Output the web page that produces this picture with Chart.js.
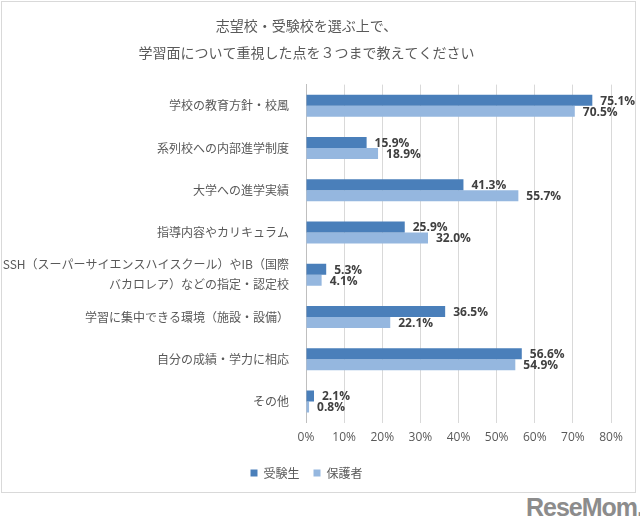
<!DOCTYPE html>
<html>
<head>
<meta charset="utf-8">
<script src="https://cdn.jsdelivr.net/npm/chart.js@4/dist/chart.umd.min.js"></script>
<style>
  body { margin: 0; background: #fff; font-family: "Noto Sans CJK JP", sans-serif; }
  .frame {
    position: absolute; left: 1px; top: 1px; width: 635px; height: 492px;
    border: 1px solid #d9d9d9; box-sizing: border-box;
  }
  .logo {
    position: absolute; left: 526px; top: 493px; white-space: nowrap;
    font: bold 25px "Liberation Sans", sans-serif; color: #8c8c8c; letter-spacing: -1px;
  }
</style>
</head>
<body>
<div class="frame"><canvas id="chart" width="633" height="490"></canvas></div>
<div class="logo">ReseMom.</div>
<script>
const titleLines = ['志望校・受験校を選ぶ上で、', '学習面について重視した点を３つまで教えてください'];
const categories = [
  '学校の教育方針・校風',
  '系列校への内部進学制度',
  '大学への進学実績',
  '指導内容やカリキュラム',
  ['SSH（スーパーサイエンスハイスクール）やIB（国際', 'バカロレア）などの指定・認定校'],
  '学習に集中できる環境（施設・設備）',
  '自分の成績・学力に相応',
  'その他',
];
const students = [75.1, 15.9, 41.3, 25.9, 5.3, 36.5, 56.6, 2.1];
const parents = [70.5, 18.9, 55.7, 32.0, 4.1, 22.1, 54.9, 0.8];
const seriesNames = ['受験生', '保護者'];
const colors = ['#4a7fba', '#95b7df'];
const font = '"Noto Sans CJK JP", sans-serif';

// draws the value text just past the end of each bar
const valueLabels = {
  id: 'valueLabels',
  afterDatasetsDraw(chart) {
    const { ctx } = chart;
    ctx.save();
    ctx.font = 'bold 12px "Open Sans", sans-serif';
    ctx.fillStyle = '#404040';
    ctx.textBaseline = 'middle';
    chart.data.datasets.forEach((ds, i) => {
      chart.getDatasetMeta(i).data.forEach((bar, j) => {
        ctx.fillText(ds.data[j].toFixed(1) + '%', bar.x + 8, bar.y + 1);
      });
    });
    ctx.restore();
  },
};

new Chart(document.getElementById('chart'), {
  type: 'bar',
  data: {
    labels: categories,
    datasets: [
      { label: seriesNames[0], data: students, backgroundColor: colors[0] },
      { label: seriesNames[1], data: parents, backgroundColor: colors[1] },
    ],
  },
  options: {
    indexAxis: 'y',
    responsive: false,
    animation: false,
    categoryPercentage: 0.52,
    barPercentage: 1,
    layout: { padding: { left: 0, right: 24, top: 10, bottom: 3 } },
    scales: {
      x: {
        min: 0,
        max: 80,
        ticks: {
          stepSize: 10,
          callback: (v) => v + '%',
          color: '#595959',
          font: { family: '"Open Sans", sans-serif', size: 12 },
          padding: 8,
        },
        grid: { color: '#d9d9d9', drawTicks: false },
        border: { display: false },
      },
      y: {
        afterFit: (scale) => { scale.width = 304; },
        ticks: {
          autoSkip: false,
          color: '#595959',
          font: { family: font, size: 12, lineHeight: 1.65 },
          padding: 9,
        },
        grid: { display: false },
        border: { color: '#bfbfbf' },
      },
    },
    plugins: {
      title: {
        display: true,
        text: titleLines,
        color: '#595959',
        font: { family: font, size: 14, weight: 'normal', lineHeight: 1.95 },
        padding: { top: 0, bottom: 18 },
      },
      legend: {
        position: 'bottom',
        labels: {
          usePointStyle: true,
          pointStyle: 'rect',
          boxWidth: 7,
          boxHeight: 7,
          color: '#595959',
          font: { family: font, size: 12 },
          padding: 14,
        },
      },
      tooltip: { enabled: false },
    },
  },
  plugins: [valueLabels],
});
</script>
</body>
</html>
